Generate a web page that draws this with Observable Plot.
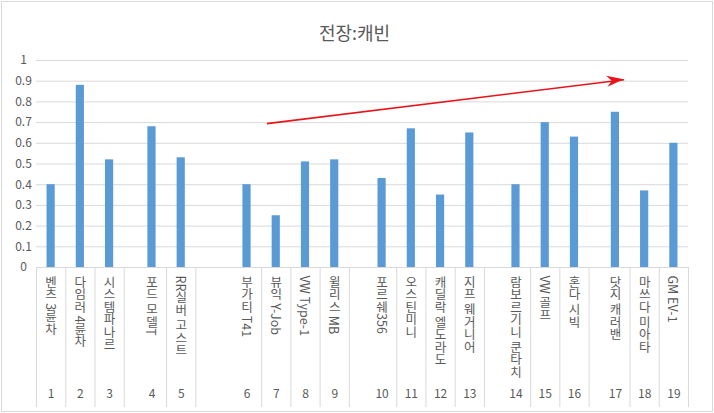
<!DOCTYPE html>
<html><head><meta charset="utf-8">
<script src="https://cdn.jsdelivr.net/npm/d3@7"></script>
<script src="https://cdn.jsdelivr.net/npm/@observablehq/plot@0.6"></script>
<style>
body{margin:0;background:#fff}
#chart svg{display:block;outline:1px solid #d9d9d9;outline-offset:-2px}
</style>
</head><body><div id="chart"></div>
<script>
const title = "전장:캐빈";
const catNames = ["벤츠 3륜차","다임러 4륜차","시스템파나르","포드 모델T","RR실버 고스트","부가티 T41","뷰익 Y-Job","VW Type-1","윌리스 MB","포르쉐356","오스틴미니","캐딜락 엘도라도","지프 웨거니어","람보르기니 쿤타치","VW 골프","혼다 시빅","닷지 캐러밴","마쓰다 미아타","GM EV-1"];
const catNums = ["1","2","3","4","5","6","7","8","9","10","11","12","13","14","15","16","17","18","19"];
const values = [0.40,0.88,0.52,0.68,0.53,0.40,0.25,0.51,0.52,0.43,0.67,0.35,0.65,0.40,0.70,0.63,0.75,0.37,0.60];
const yTicks = [0,0.1,0.2,0.3,0.4,0.5,0.6,0.7,0.8,0.9,1];
const yTickLabels = ["0","0.1","0.2","0.3","0.4","0.5","0.6","0.7","0.8","0.9","1"];
// extra empty space (in category widths) before each category's cell
const groupGap = [0,0,0,0.45,0,1.25,0,0,0,0.62,0,0,0,0.58,0,0,0.4,0,0];
// trend arrow annotation (x in category units, y in value units)
const trendArrow = [{x1: 7.88, y1: 0.695, x2: 20.1, y2: 0.907}];

let pos = 0;
const rows = values.map((v, i) => {
  const left = pos;
  const right = pos + groupGap[i] + 1;
  pos = right;
  return {name: catNames[i], num: catNums[i], value: v, left, right, center: right - 0.5};
});
const total = pos;
const edges = [0, ...rows.map(r => r.right)];
const bw = 0.14;
const ticks = yTicks.map((t, i) => ({t, label: yTickLabels[i]}));
const red = "#e8141b";
const gray = "#595959";

const chart = Plot.plot({
  width: 714, height: 413,
  marginTop: 60, marginBottom: 146, marginLeft: 36, marginRight: 26,
  style: {fontFamily: "'Noto Sans CJK KR', 'Noto Sans', sans-serif", color: gray, background: "#fff", overflow: "visible"},
  x: {type: "linear", domain: [0, total], axis: null},
  y: {domain: [0, 1], axis: null},
  marks: [
    Plot.ruleY(ticks, {y: "t", stroke: "#d9d9d9", strokeWidth: 1}),
    Plot.ruleX(edges, {stroke: "#d9d9d9", insetTop: 207, insetBottom: -140}),
    Plot.rectY(rows, {x1: d => d.center - bw, x2: d => d.center + bw, y: "value", fill: "#5b9bd5"}),
    Plot.text(ticks, {y: "t", text: "label", frameAnchor: "left", dx: -13, textAnchor: "middle", fontSize: 12, fill: gray}),
    Plot.text(rows, {x: "center", text: "name", frameAnchor: "bottom", dy: 8, textAnchor: "start", fontSize: 12.5, fill: gray}),
    Plot.text(rows, {x: "center", text: "num", frameAnchor: "bottom", dy: 130.5, fontSize: 12, fill: gray}),
    Plot.text([title], {frameAnchor: "top", dx: -8, dy: -33, fontSize: 18, fill: gray}),
    Plot.link(trendArrow, {x1: "x1", y1: "y1", x2: "x2", y2: "y2", stroke: red, strokeWidth: 1.6})
  ]
});

// vertical (stacked) category labels
const textGroups = chart.querySelectorAll('g[aria-label="text"]');
d3.select(textGroups[1]).selectAll("text")
  .attr("dy", null)
  .style("writing-mode", "vertical-rl");

// filled arrowhead at the arrow end, placed via the chart's scales
const sx = chart.scale("x"), sy = chart.scale("y");
trendArrow.forEach(a => {
  const px1 = sx.apply(a.x1), py1 = sy.apply(a.y1), px2 = sx.apply(a.x2), py2 = sy.apply(a.y2);
  const ang = Math.atan2(py2 - py1, px2 - px1) * 180 / Math.PI;
  d3.select(chart).append("path")
    .attr("d", "M0,0L-17,-5.5L-12,0L-17,5.5Z")
    .attr("fill", red)
    .attr("transform", `translate(${px2},${py2}) rotate(${ang})`);
});

document.getElementById("chart").appendChild(chart);
</script>
</body></html>
